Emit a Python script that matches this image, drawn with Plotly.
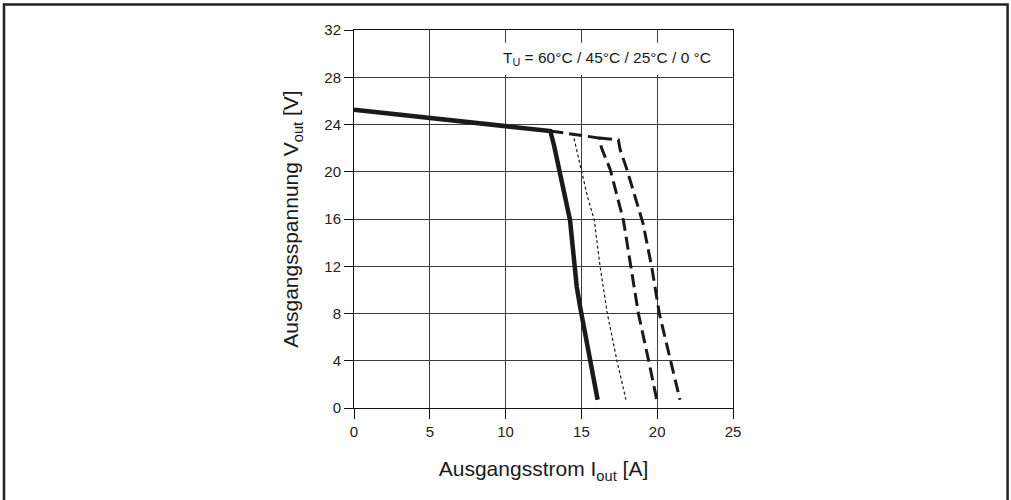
import plotly.graph_objects as go

# Output characteristic: output current I_out [A] vs output voltage V_out [V]
I_60 = [0, 12.95, 13.2, 13.55, 14.25, 14.47, 14.69, 14.91, 15.4, 15.68, 16.07]
V_60 = [25.25, 23.45, 22.2, 20.2, 15.9, 13.1, 10.3, 8.6, 5.2, 3.5, 0.7]

I_45 = [14.43, 14.97, 15.4, 15.85, 16.23, 16.71, 17.33, 17.94]
V_45 = [23.28, 20.2, 17.9, 15.9, 12.0, 8.0, 4.1, 0.7]

I_25 = [12.95, 16.17, 16.33, 16.9, 17.77, 18.25, 18.76, 19.42, 19.97]
V_25 = [23.45, 22.86, 22.0, 20.2, 15.9, 12.0, 8.0, 4.1, 0.7]

I_0 = [16.17, 17.44, 17.55, 18.0, 19.07, 19.63, 20.14, 20.84, 21.5]
V_0 = [22.86, 22.7, 21.9, 20.2, 15.6, 12.0, 8.0, 4.1, 0.7]

x_ticks = [0, 5, 10, 15, 20, 25]
y_ticks = [0, 4, 8, 12, 16, 20, 24, 28, 32]

FONT = "Arial, Liberation Sans, Helvetica, sans-serif"
INK = "#1a1a1a"

fig = go.Figure()
fig.add_trace(go.Scatter(x=I_0, y=V_0, mode="lines", name="0 °C",
                         line=dict(color=INK, width=3, dash="13px,6px")))
fig.add_trace(go.Scatter(x=I_25, y=V_25, mode="lines", name="25 °C",
                         line=dict(color=INK, width=3, dash="13px,6px")))
fig.add_trace(go.Scatter(x=I_45, y=V_45, mode="lines", name="45 °C",
                         line=dict(color=INK, width=1.2, dash="3px,2.5px")))
fig.add_trace(go.Scatter(x=I_60, y=V_60, mode="lines", name="60 °C",
                         line=dict(color=INK, width=4.5)))

# white box behind the temperature label (covers grid only)
fig.add_shape(type="rect", xref="x", yref="y", x0=9, x1=25, y0=28.22, y1=30.93,
              fillcolor="white", line=dict(width=0), layer="between")

fig.add_annotation(x=23.7, y=29.6, xref="x", yref="y", xanchor="right", yanchor="middle",
                   text="T<sub>U</sub> = 60°C / 45°C / 25°C / 0 °C", showarrow=False,
                   font=dict(family=FONT, size=15.5, color=INK))

# outer frame of the figure
fig.add_shape(type="rect", xref="paper", yref="paper",
              x0=-0.9235, x1=1.7245, y0=-0.26, y1=1.0675,
              line=dict(color="#222222", width=2.5), fillcolor="rgba(0,0,0,0)")

axis_common = dict(showgrid=True, gridcolor="#3c3c3c", gridwidth=1,
                   showline=True, linecolor="#111111", linewidth=1, mirror=True,
                   ticks="outside", tickcolor="#111111", tickwidth=1,
                   zeroline=False, tickfont=dict(family=FONT, size=15, color="#222222"))

fig.update_xaxes(range=[0, 25], tickvals=x_ticks, ticklen=10,
                 title=dict(text="Ausgangsstrom I<sub>out</sub> [A]",
                            font=dict(family=FONT, size=21, color=INK), standoff=22),
                 **axis_common)
fig.update_yaxes(range=[0, 32], tickvals=y_ticks, ticklen=9,
                 title=dict(text="Ausgangsspannung V<sub>out</sub> [V]",
                            font=dict(family=FONT, size=21, color=INK), standoff=19),
                 **axis_common)

fig.update_layout(width=1011, height=500, showlegend=False,
                  margin=dict(l=354, r=278, t=30, b=92, autoexpand=False),
                  paper_bgcolor="white", plot_bgcolor="white",
                  font=dict(family=FONT, color=INK))

fig.write_html("out.html", config={"displayModeBar": False},
               post_script="document.body.style.margin='0';document.body.style.overflow='hidden';")
